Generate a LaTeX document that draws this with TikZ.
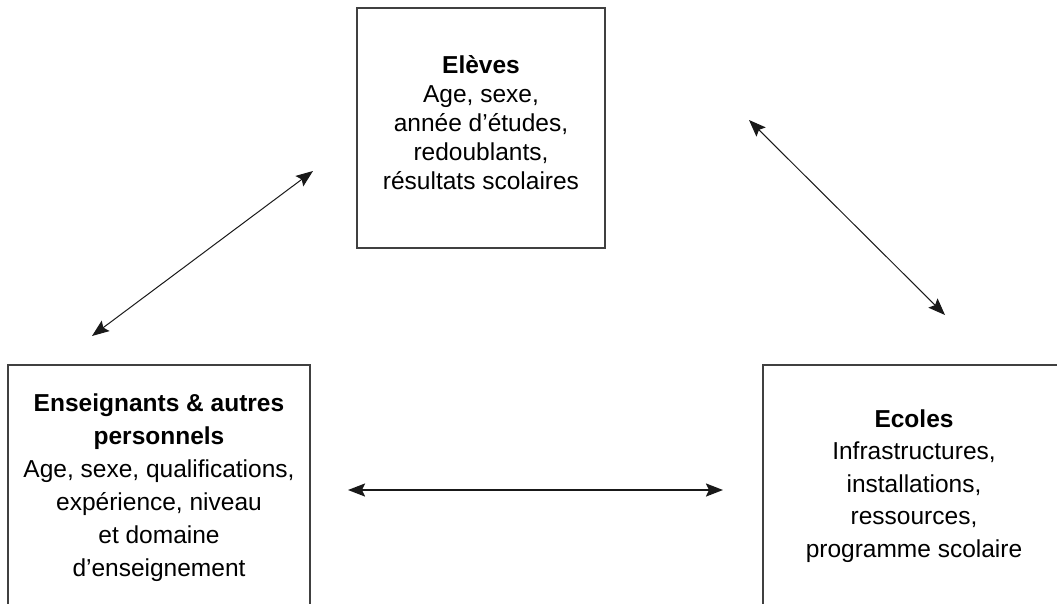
\documentclass[tikz,border=0pt]{standalone}
\usepackage{fontspec}
\setmainfont{Liberation Sans}
\usetikzlibrary{arrows.meta,positioning}
\tikzset{
	box/.style={draw=black!75, line width=1.2pt, align=center, minimum height=240pt, inner sep=0pt},
	txt/.style={font=\fontsize{24.5}{#1}\selectfont},
	txt/.default=31pt,
	line/.style={draw=black!90, line width=1pt, {Stealth[length=17pt,width=13pt,inset=3pt]}-{Stealth[length=17pt,width=13pt,inset=3pt]}},
	bold line/.style={line, line width=2pt}
}

\begin{document}
\begin{tikzpicture}[x=1pt, y=-1pt]
	\clip (0,0) rectangle (1057,603);
	\node[box, minimum width=248pt, txt=29pt, text depth=10pt] (eleves) at (481,128) {
		\textbf{Elèves}\\
		Age, sexe,\\
		année d’études,\\
		redoublants,\\
		résultats scolaires
	};
	\node[box, minimum width=302pt, minimum height=246pt, txt=33pt] (ens) at (159,488) {
		\textbf{Enseignants \& autres}\\
		\textbf{personnels}\\
		Age, sexe, qualifications,\\
		expérience, niveau\\
		et domaine\\
		d’enseignement
	};
	\node[box, minimum width=302pt, minimum height=242pt, txt=32.5pt] (ecoles) at (914,486) {
		\textbf{Ecoles}\\
		Infrastructures,\\
		installations,\\
		ressources,\\
		programme scolaire
	};
	% arrow ends
	\coordinate (ensUp) at (92,336);
	\coordinate (elevesL) at (313,171);
	\coordinate (elevesR) at (749,120);
	\coordinate (ecolesUp) at (945,315);
	\coordinate (ensR) at (348,490);
	\coordinate (ecolesL) at (723,490);
	\path[line] (ensUp) -- (elevesL);
	\path[line] (elevesR) -- (ecolesUp);
	\path[bold line] (ensR) -- (ecolesL);
\end{tikzpicture}
\end{document}
